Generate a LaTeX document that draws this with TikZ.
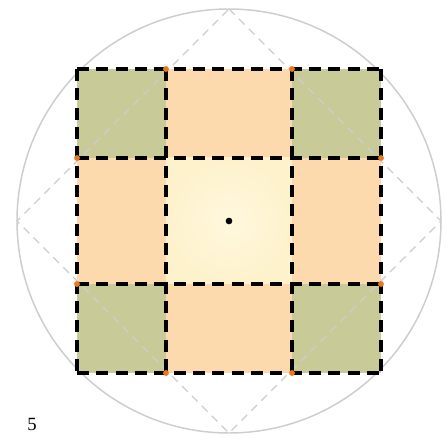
\documentclass[tikz,border=0pt]{standalone}
\usepackage{tikz}
\usepackage{fontspec}
\setmainfont{Liberation Serif}
\usetikzlibrary{calc}
\usetikzlibrary{positioning}

\definecolor{cornercell}{RGB}{200,202,152}
\definecolor{edgecell}{RGB}{252,218,173}
\definecolor{midcell}{RGB}{254,242,204}
\definecolor{midglow}{RGB}{255,248,222}
\definecolor{ringgray}{RGB}{205,205,205}
\definecolor{tickorange}{RGB}{235,120,30}

\begin{document}
\begin{tikzpicture}[x=0.75pt,y=0.75pt]

\pgfmathsetmacro{\R}{212};
\pgfmathsetmacro{\a}{152};
\pgfmathsetmacro{\b}{63};

\useasboundingbox (-229,-218) rectangle (218,221);

% cells
\fill[cornercell] (-\a,\a) rectangle (-\b,\b);
\fill[cornercell] (\b,\a) rectangle (\a,\b);
\fill[cornercell] (-\a,-\b) rectangle (-\b,-\a);
\fill[cornercell] (\b,-\b) rectangle (\a,-\a);
\fill[edgecell] (-\b,\a) rectangle (\b,\b);
\fill[edgecell] (-\b,-\b) rectangle (\b,-\a);
\fill[edgecell] (-\a,\b) rectangle (-\b,-\b);
\fill[edgecell] (\b,\b) rectangle (\a,-\b);
\shade[inner color=midglow, outer color=midcell] (-\b,\b) rectangle (\b,-\b);

% circle and diamond
\draw[ringgray, line width=1.1pt] (0,0) circle (\R);
\draw[ringgray, line width=0.9pt, dash pattern=on 6pt off 4.5pt]
  (0,\R) -- (\R,0) -- (0,-\R) -- (-\R,0) -- cycle;

% grid
\foreach \u in {-\a,-\b,\b,\a} {
  \draw[line width=2.8pt, dash pattern=on 9pt off 5.5pt] (\u,\a) -- (\u,-\a);
  \draw[line width=2.8pt, dash pattern=on 9pt off 5.5pt] (-\a,\u) -- (\a,\u);
}

% touching points
\foreach \p/\q in {-\b/\a, \b/\a, \a/\b, \a/-\b, \b/-\a, -\b/-\a, -\a/-\b, -\a/\b}
  \fill[tickorange] (\p,\q) circle (2.2pt);

% centre
\node[circle, fill=black, inner sep=0pt, minimum size=5pt] (centre) at (0,0) {};
\node[font=\fontsize{14}{16}\selectfont] (label) at (-197,-203) {5};
\end{tikzpicture}
\end{document}
